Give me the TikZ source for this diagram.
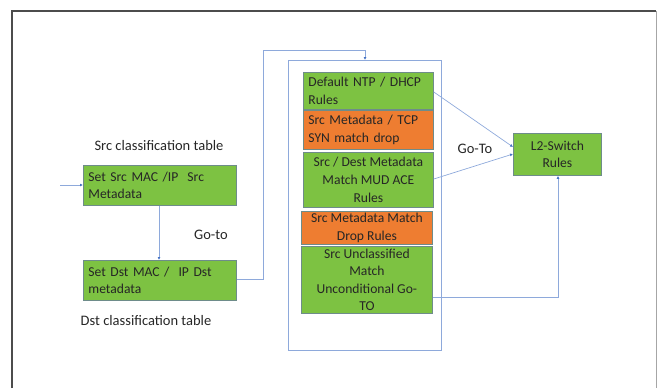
\documentclass[tikz,border=0pt]{standalone}
\usepackage{fontspec}
\setmainfont{Carlito}
\usetikzlibrary{arrows.meta}
\definecolor{boxgreen}{HTML}{7DC242}
\definecolor{boxorange}{HTML}{EE7D31}
\definecolor{boxedge}{HTML}{6E8C8A}
\definecolor{linkblue}{HTML}{8EA9DB}
\definecolor{arrowblue}{HTML}{4472C4}
\hbadness=10000 \hfuzz=100pt
\begin{document}
\begin{tikzpicture}[x=1pt,y=-1pt,
  every node/.style={font=\fontsize{14.5}{17.5}\selectfont, text=black!85},
  boxbase/.style={draw=boxedge, line width=0.8pt, inner xsep=5pt, inner ysep=0pt, font=\fontsize{13.6}{17.6}\selectfont},
  gbox/.style={boxbase, fill=boxgreen},
  obox/.style={boxbase, fill=boxorange},
  link/.style={draw=linkblue, line width=0.7pt},
  arr/.style={link, -{Latex[length=3pt,width=3pt,color=arrowblue]}},
  lbl/.style={inner sep=0pt}
]
\useasboundingbox (0,0) rectangle (658,388);
% outer frame
\draw[black!70, line width=1.3pt] (12,388) -- (12,11) -- (656,11);
\draw[black!35, line width=0.6pt] (656,11) -- (656,388);

% left tables
\node[gbox, minimum width=153, minimum height=40, anchor=north west, align=left, text width=143] (src) at (83,165) {\mbox{Set Src MAC /IP\ \ Src}\\\mbox{Metadata}};
\node[gbox, minimum width=153, minimum height=40, anchor=north west, align=left, text width=143] (dst) at (83,260) {\mbox{Set Dst MAC /\ \ IP Dst}\\\mbox{metadata}};
\node[lbl] (srclbl) at (159,146) {Src classification table};
\node[lbl] (dstlbl) at (146,321) {Dst classification table};
\node[lbl] (goto) at (211,235) {Go-to};
\coordinate (in) at (60,185);
\draw[arr] (in) -- (src.west |- in);
\draw[arr] (src.south -| 159,0) -- (dst.north -| 159,0);

% container
\node[draw=linkblue, line width=1pt, minimum width=153, minimum height=290, anchor=north west] (cont) at (288,60) {};
\draw[arr] (dst.east |- 0,279) -- (263,279) -- (263,50) -- (365,50) -- (cont.north -| 365,0);

% inner rule boxes
\node[gbox, minimum width=130, minimum height=37, anchor=north west, align=left, text width=120] (r1) at (303,72) {\mbox{Default NTP / DHCP}\\\mbox{Rules}};
\node[obox, minimum width=130, minimum height=39, anchor=north west, align=left, text width=120] (r2) at (303,110) {\mbox{Src Metadata / TCP}\\\mbox{SYN match drop}};
\node[gbox, minimum width=130, minimum height=55, anchor=north west, align=center] (r3) at (303,152) {Src / Dest Metadata\\Match MUD ACE\\Rules};
\node[obox, minimum width=131, minimum height=33, anchor=north west, align=center] (r4) at (301,211) {Src Metadata Match\\Drop Rules};
\node[gbox, minimum width=131, minimum height=67, anchor=north west, align=center] (r5) at (301,246) {Src Unclassified\\Match\\Unconditional Go-\\TO};

% L2 switch
\node[gbox, minimum width=88, minimum height=42, anchor=north west, align=center] (l2) at (513,133) {L2-Switch\\Rules};
\node[lbl] (goto2) at (475,149) {Go-To};
\draw[arr] (r1.east |- 0,92) -- (l2.west |- 0,147);
\draw[arr] (r3.east |- 0,179) -- (l2.west |- 0,154);
\draw[arr] (r5.east |- 0,297) -- (558,297) -- (l2.south -| 558,0);
\end{tikzpicture}
\end{document}
